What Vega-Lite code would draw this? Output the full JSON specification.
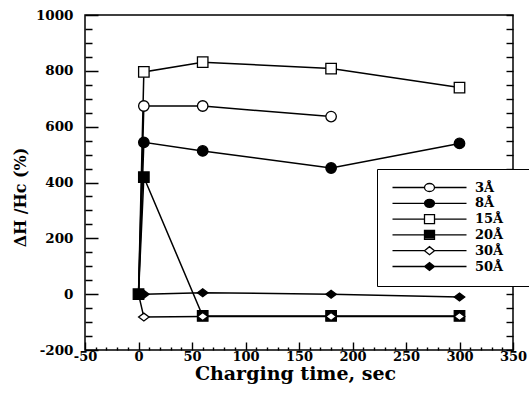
{
  "$schema": "https://vega.github.io/schema/vega-lite/v6.json",
  "width": 428,
  "height": 335,
  "autosize": {"type": "none"},
  "padding": {"left": 85, "top": 15, "right": 16, "bottom": 54},
  "background": "white",
  "config": {
    "view": {"stroke": "black", "strokeWidth": 1.5},
    "font": "DejaVu Serif",
    "axis": {"ticks": true, "tickOpacity": 1}
  },
  "data": {
    "values": [
      {"series": "3Å", "t": 0, "v": 0},
      {"series": "3Å", "t": 5, "v": 674},
      {"series": "3Å", "t": 60, "v": 674},
      {"series": "3Å", "t": 180, "v": 636},
      {"series": "8Å", "t": 0, "v": 0},
      {"series": "8Å", "t": 5, "v": 544},
      {"series": "8Å", "t": 60, "v": 513},
      {"series": "8Å", "t": 180, "v": 452},
      {"series": "8Å", "t": 300, "v": 540},
      {"series": "15Å", "t": 0, "v": 0},
      {"series": "15Å", "t": 5, "v": 796},
      {"series": "15Å", "t": 60, "v": 831},
      {"series": "15Å", "t": 180, "v": 808},
      {"series": "15Å", "t": 300, "v": 740},
      {"series": "20Å", "t": 0, "v": 0},
      {"series": "20Å", "t": 5, "v": 419},
      {"series": "20Å", "t": 60, "v": -78},
      {"series": "20Å", "t": 180, "v": -78},
      {"series": "20Å", "t": 300, "v": -78},
      {"series": "30Å", "t": 0, "v": 0},
      {"series": "30Å", "t": 5, "v": -82},
      {"series": "30Å", "t": 60, "v": -80},
      {"series": "30Å", "t": 180, "v": -80},
      {"series": "30Å", "t": 300, "v": -80},
      {"series": "50Å", "t": 0, "v": 0},
      {"series": "50Å", "t": 5, "v": 0},
      {"series": "50Å", "t": 60, "v": 5},
      {"series": "50Å", "t": 180, "v": 0},
      {"series": "50Å", "t": 300, "v": -10}
    ]
  },
  "layer": [
    {
      "mark": {"type": "line", "color": "black", "strokeWidth": 1.5},
      "encoding": {
        "x": {
          "field": "t", "type": "quantitative",
          "scale": {"domain": [-50, 350], "nice": false, "zero": false},
          "axis": {
            "values": [-50,-40,-30,-20,-10,0,10,20,30,40,50,60,70,80,90,100,110,120,130,140,150,160,170,180,190,200,210,220,230,240,250,260,270,280,290,300,310,320,330,340,350],
            "offset": -8,
            "tickSize": 8,
            "tickDash": {"condition": {"test": "datum.value % 50 === 0", "value": [1, 0]}, "value": [0, 5, 3]},
            "labelExpr": "datum.value % 50 === 0 ? toString(datum.value) : ''",
            "domain": false, "grid": false,
            "labelFlush": false, "labelOverlap": false, "labelBound": false,
            "labelPadding": 0,
            "labelFont": "DejaVu Serif", "labelFontWeight": "bold", "labelFontSize": 13, "labelColor": "black",
            "tickColor": "black", "tickWidth": 1.4,
            "title": "Charging   time,   sec",
            "titleFont": "DejaVu Serif", "titleFontWeight": "bold", "titleFontSize": 19, "titleColor": "black",
            "titleX": 210, "titleY": 37, "titleBaseline": "alphabetic", "titleAlign": "center", "titleAnchor": "middle"
          }
        },
        "y": {
          "field": "v", "type": "quantitative",
          "scale": {"domain": [-200, 1000], "nice": false, "zero": false},
          "axis": {
            "values": [-200,-150,-100,-50,0,50,100,150,200,250,300,350,400,450,500,550,600,650,700,750,800,850,900,950,1000],
            "offset": -13,
            "tickSize": 13,
            "tickDash": {"condition": {"test": "datum.value % 200 === 0", "value": [1, 0]}, "value": [0, 6, 7]},
            "labelExpr": "datum.value % 200 === 0 ? toString(datum.value) : ''",
            "domain": false, "grid": false,
            "labelFlush": false, "labelOverlap": false, "labelBound": false,
            "labelPadding": 12,
            "labelFont": "DejaVu Serif", "labelFontWeight": "bold", "labelFontSize": 13.5, "labelColor": "black",
            "tickColor": "black", "tickWidth": 1.4,
            "title": "ΔH /Hc (%)",
            "titleFont": "DejaVu Serif", "titleFontWeight": "bold", "titleFontSize": 16, "titleColor": "black",
            "titleX": -78, "titleY": 182, "titleBaseline": "middle", "titleAlign": "center", "titleAngle": 270
          }
        },
        "detail": {"field": "series"}
      }
    },
    {
      "transform": [{"filter": "datum.t > 0 || datum.series === '20Å'"}],
      "mark": {"type": "point", "filled": true, "opacity": 1, "stroke": "black", "strokeWidth": 1.3, "size": 110},
      "encoding": {
        "x": {"field": "t", "type": "quantitative", "axis": null},
        "y": {
          "field": "v", "type": "quantitative",
          "axis": {
            "orient": "right",
            "values": [-200,-150,-100,-50,0,50,100,150,200,250,300,350,400,450,500,550,600,650,700,750,800,850,900,950,1000],
            "offset": -7,
            "tickSize": 7, "labels": false, "domain": false, "grid": false, "title": null,
            "tickColor": "black", "tickWidth": 1.4
          }
        },
        "shape": {
          "field": "series", "type": "nominal",
          "scale": {"domain": ["3Å","8Å","15Å","20Å","30Å","50Å"], "range": ["circle","circle","square","square","M-1,0L0,-0.75L1,0L0,0.75Z","M-1,0L0,-0.75L1,0L0,0.75Z"]},
          "legend": null
        },
        "fill": {
          "field": "series", "type": "nominal",
          "scale": {"domain": ["3Å","8Å","15Å","20Å","30Å","50Å"], "range": ["white","black","white","black","white","black"]},
          "legend": null
        }
      }
    },
    {
      "transform": [{"filter": "false"}],
      "mark": {"type": "point", "filled": false, "opacity": 1, "color": "black", "stroke": "black", "strokeWidth": 1.3},
      "encoding": {
        "x": {"field": "t", "type": "quantitative", "axis": null},
        "y": {"field": "v", "type": "quantitative", "axis": null},
        "shape": {
          "field": "series", "type": "nominal",
          "scale": {"domain": ["3Å","8Å","15Å","20Å","30Å","50Å"], "range": [
            "M-7.4,0H-1M1,0H7.4M-1,0A1,0.8,0,1,1,1,0A1,0.8,0,1,1,-1,0ZM16.8,0",
            "M-7.4,0H-1M1,0H7.4M-1,0A1,0.8,0,1,1,1,0A1,0.8,0,1,1,-1,0ZM-0.988,-0.125H0.988M-0.988,0.125H0.988M-0.883,-0.375H0.883M-0.883,0.375H0.883M-0.624,-0.625H0.624M-0.624,0.625H0.624M16.8,0",
            "M-7.4,0H-1M1,0H7.4M-1,-0.9H1V0.9H-1ZM16.8,0",
            "M-7.4,0H-1M1,0H7.4M-1,-0.9H1V0.9H-1ZM-1,-0.65H1M-1,-0.4H1M-1,-0.15H1M-1,0.1H1M-1,0.35H1M-1,0.6H1M16.8,0",
            "M-7.4,0H-1M1,0H7.4M-1,0L0,-0.8L1,0L0,0.8ZM16.8,0",
            "M-7.4,0H-1M1,0H7.4M-1,0L0,-0.8L1,0L0,0.8ZM-0.844,-0.125H0.844M-0.844,0.125H0.844M-0.531,-0.375H0.531M-0.531,0.375H0.531M-0.219,-0.625H0.219M-0.219,0.625H0.219M16.8,0"
          ]},
          "legend": {
            "orient": "none", "legendX": 292, "legendY": 154, "title": null,
            "padding": 12, "strokeColor": "black", "fillColor": "white",
            "symbolSize": 100, "symbolOffset": 34, "labelOffset": 39,
            "symbolStrokeColor": "black", "symbolStrokeWidth": 1.3, "symbolFillColor": "white",
            "labelFont": "DejaVu Serif", "labelFontWeight": "bold", "labelFontSize": 13, "labelColor": "black",
            "rowPadding": 0.8
          }
        }
      }
    }
  ],
  "resolve": {
    "scale": {"shape": "independent", "fill": "independent"},
    "axis": {"y": "independent", "x": "independent"}
  }
}
